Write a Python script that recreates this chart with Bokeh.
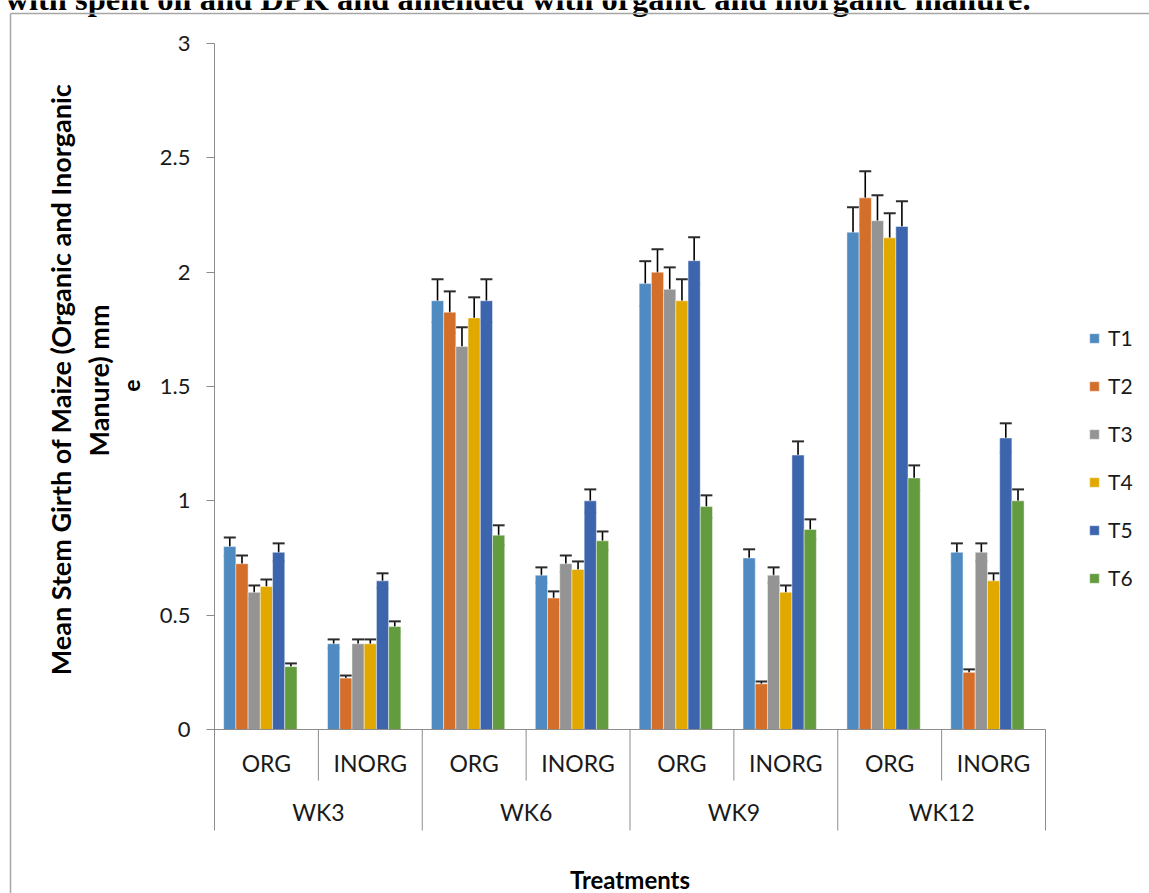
import math
from bokeh.plotting import figure
from bokeh.models import (ColumnDataSource, Range1d, FixedTicker, NumeralTickFormatter,
                          Whisker, TeeHead, Legend, LegendItem)
from bokeh.core.properties import value
from bokeh.embed import file_html
from bokeh.resources import INLINE

# ---------------- data ----------------
weeks = ["WK3", "WK6", "WK9", "WK12"]
manures = ["ORG", "INORG"]
treatments = ["T1", "T2", "T3", "T4", "T5", "T6"]
y_ticks = [0, 0.5, 1, 1.5, 2, 2.5, 3]

# order: WK3 ORG, WK3 INORG, WK6 ORG, WK6 INORG, WK9 ORG, WK9 INORG, WK12 ORG, WK12 INORG
T1 = [0.800, 0.375, 1.875, 0.675, 1.950, 0.750, 2.175, 0.775]
T2 = [0.725, 0.225, 1.825, 0.575, 2.000, 0.200, 2.325, 0.250]
T3 = [0.600, 0.375, 1.675, 0.725, 1.925, 0.675, 2.225, 0.775]
T4 = [0.625, 0.375, 1.800, 0.700, 1.875, 0.600, 2.150, 0.650]
T5 = [0.775, 0.650, 1.875, 1.000, 2.050, 1.200, 2.200, 1.275]
T6 = [0.275, 0.450, 0.850, 0.825, 0.975, 0.875, 1.100, 1.000]

T1_err = [0.040, 0.019, 0.094, 0.034, 0.098, 0.038, 0.109, 0.039]
T2_err = [0.036, 0.011, 0.091, 0.029, 0.100, 0.010, 0.116, 0.013]
T3_err = [0.030, 0.019, 0.084, 0.036, 0.096, 0.034, 0.111, 0.039]
T4_err = [0.031, 0.019, 0.090, 0.035, 0.094, 0.030, 0.108, 0.033]
T5_err = [0.039, 0.033, 0.094, 0.050, 0.103, 0.060, 0.110, 0.064]
T6_err = [0.014, 0.023, 0.043, 0.041, 0.049, 0.044, 0.055, 0.050]

series = [T1, T2, T3, T4, T5, T6]
errors = [T1_err, T2_err, T3_err, T4_err, T5_err, T6_err]
colors = ["#4F8AC0", "#D36E2B", "#949494", "#E1A900", "#3D65AE", "#639B3F"]

title_text = "with spent oil and DPK and amended with organic and inorganic manure."
ytitle_1 = "Mean Stem Girth of Maize (Organic and Inorganic"
ytitle_2 = "Manure) mm"
xtitle = "Treatments"

FONT = "Lato"

# ---------------- geometry (pixel layout of the chart) ----------------
W, H = 1149, 893
X0_PX, X_UNIT = 214.0, 103.875     # category axis origin / px per category
Y0_PX, Y_UNIT = 729.0, 228.667     # value axis origin / px per unit


def px2x(px):
    return (px - X0_PX) / X_UNIT


def py2y(py):
    return (Y0_PX - py) / Y_UNIT


p = figure(width=W, height=H,
           x_range=Range1d(px2x(0), px2x(W)), y_range=Range1d(py2y(H), py2y(0)),
           output_backend="svg", toolbar_location=None, x_axis_location=None,
           min_border_left=0, min_border_right=0, min_border_top=0, min_border_bottom=0)
p.title.visible = False
p.outline_line_color = None
p.xgrid.visible = False
p.ygrid.visible = False
p.background_fill_color = "white"
p.border_fill_color = "white"

yax = p.yaxis[0]
yax.fixed_location = 0
yax.ticker = FixedTicker(ticks=y_ticks)
yax.formatter = NumeralTickFormatter(format="0.[0]")
yax.bounds = (py2y(830), 3)
yax.axis_line_color = "#8c8c8c"
yax.major_tick_line_color = "#8c8c8c"
yax.major_tick_out = 8
yax.major_tick_in = 0
yax.minor_tick_line_color = None
yax.major_label_standoff = 16
yax.major_label_text_font = FONT
yax.major_label_text_font_size = "22px"
yax.major_label_text_color = "#1a1a1a"

ncat = len(weeks) * len(manures)
slot = 8.5  # 7 bar slots + gap (Excel-like spacing)
bw = 1.0 / slot

items = []
for j, (vals, errs, col, name) in enumerate(zip(series, errors, colors, treatments)):
    xs = [i + (0.75 + j + 0.5) / slot for i in range(ncat)]
    src = ColumnDataSource(dict(x=xs, top=vals,
                                upper=[v + e for v, e in zip(vals, errs)],
                                lower=[v - e for v, e in zip(vals, errs)]))
    r = p.vbar(x="x", top="top", bottom=0, width=bw, source=src,
               fill_color=col, line_color="white", line_alpha=0.45, line_width=1)
    items.append(LegendItem(label=name, renderers=[r]))
    wk = Whisker(source=src, base="x", upper="upper", lower="lower", dimension="height",
                 line_color="black", line_width=1.6,
                 upper_head=TeeHead(size=12, line_color="#2b2b2b", line_width=2),
                 lower_head=TeeHead(size=12, line_color="#2b2b2b", line_width=2))
    p.add_layout(wk)

# category axis (Excel-style two-level)
AXC = "#8c8c8c"
p.segment(x0=[0], y0=[0], x1=[ncat], y1=[0], line_color=AXC, line_width=1)
major_x = [2 * k for k in range(1, len(weeks) + 1)]
minor_x = [2 * k + 1 for k in range(len(weeks))]
p.segment(x0=major_x, y0=[0] * len(major_x), x1=major_x, y1=[py2y(830)] * len(major_x),
          line_color=AXC, line_width=1)
p.segment(x0=minor_x, y0=[0] * len(minor_x), x1=minor_x, y1=[py2y(780)] * len(minor_x),
          line_color=AXC, line_width=1)

sub_labels = [m for w in weeks for m in manures]
p.text(x=[i + 0.5 for i in range(ncat)], y=[py2y(762)] * ncat, text=sub_labels,
       text_font=value(FONT), text_font_size="23px", text_align="center",
       text_baseline="middle", text_color="#1a1a1a")
p.text(x=[2 * k + 1 for k in range(len(weeks))], y=[py2y(811)] * len(weeks), text=weeks,
       text_font=value(FONT), text_font_size="23px", text_align="center",
       text_baseline="middle", text_color="#1a1a1a")
p.text(x=[4], y=[py2y(879)], text=[xtitle], text_font=value(FONT), text_font_size="24px",
       text_font_style="bold", text_align="center", text_baseline="middle",
       text_color="#000000")

# y title (two lines, rotated) and the stray glyph beside it
p.text(x=[px2x(60), px2x(98)], y=[py2y(379), py2y(380)], text=[ytitle_1, ytitle_2],
       angle=math.pi / 2, text_font=value(FONT), text_font_style="bold",
       text_font_size="27px", text_align="center", text_baseline="middle",
       text_color="#000000")
p.text(x=[px2x(131)], y=[py2y(385)], text=["e"], angle=math.pi / 2,
       text_font=value(FONT), text_font_style="bold", text_font_size="23px",
       text_align="center", text_baseline="middle", text_color="#000000")

# clipped document caption at the very top
p.text(x=[px2x(5)], y=[py2y(-2)], text=[title_text], text_font=value("Liberation Serif"),
       text_font_style="bold", text_font_size="32.5px", text_align="left",
       text_baseline="alphabetic", text_color="#000000")

# chart-area border (only left and top edges are inside the window)
p.segment(x0=[px2x(10), px2x(10)], y0=[py2y(13), py2y(13)],
          x1=[px2x(W + 5), px2x(10)], y1=[py2y(13), py2y(H + 5)],
          line_color="#a6a6a6", line_width=1.5)

# legend
legend = Legend(items=items, location=(1088, H - 590), orientation="vertical",
                glyph_width=12, glyph_height=12, label_height=25, spacing=23,
                label_standoff=8, padding=0, margin=0, border_line_color=None,
                background_fill_alpha=0, label_text_font=FONT,
                label_text_font_size="21px", label_text_color="#1a1a1a")
p.add_layout(legend)

open("out.html", "w").write(file_html(p, INLINE))
